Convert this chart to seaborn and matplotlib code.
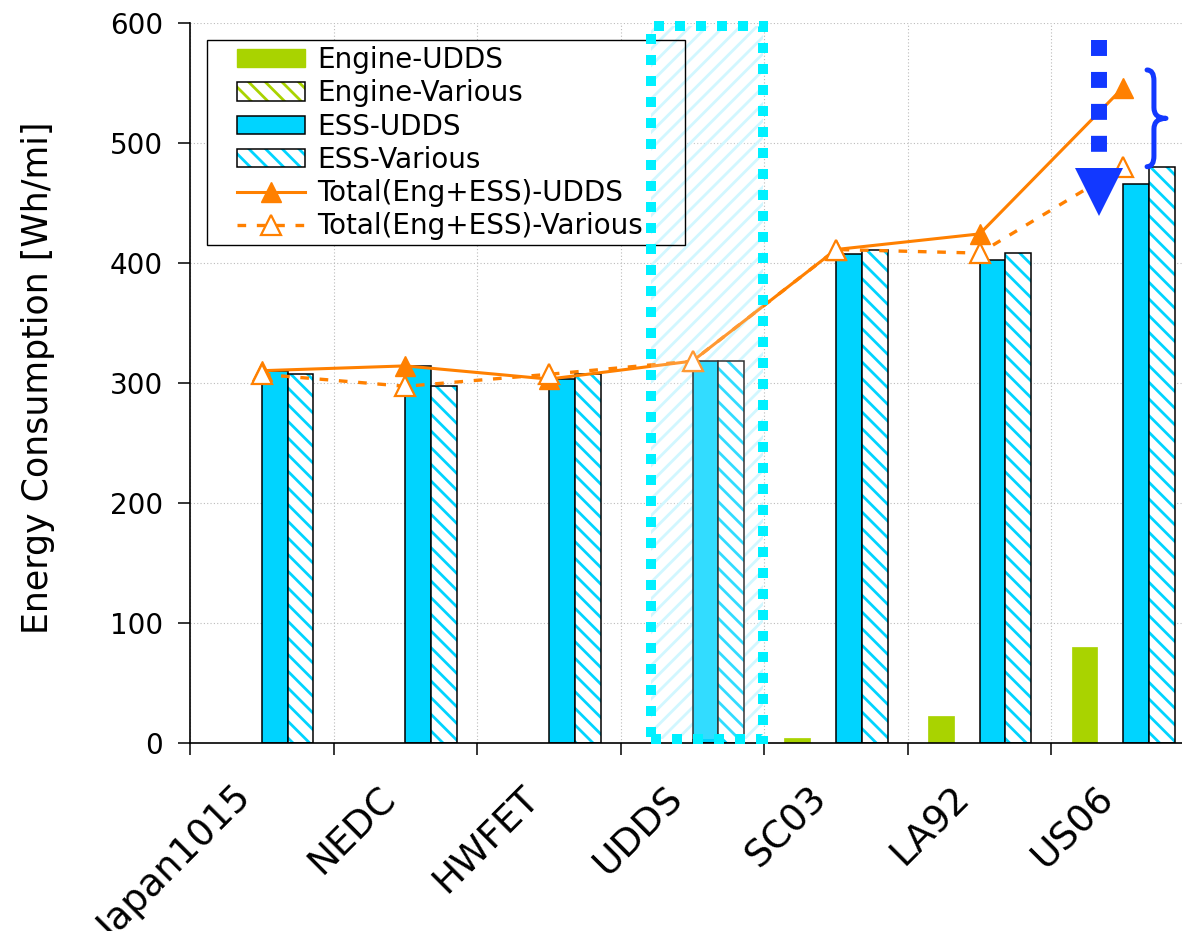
import numpy as np
import pandas as pd
import matplotlib
matplotlib.use("Agg")
import matplotlib.pyplot as plt
import seaborn as sns
from matplotlib.patches import Patch, Rectangle, PathPatch
from matplotlib.lines import Line2D
from matplotlib.path import Path
from matplotlib.legend_handler import HandlerTuple

# ---- data -------------------------------------------------------------
cycles = ["Japan1015", "NEDC", "HWFET", "UDDS", "SC03", "LA92", "US06"]
engine_udds = [0, 0, 0, 0, 4, 22, 80]
engine_various = [0, 0, 0, 0, 0, 0, 0]
ess_udds = [310, 314, 303, 318, 407, 402, 466]
ess_various = [307, 297, 307, 318, 411, 408, 480]
total_udds = [310, 314, 303, 318, 411, 424, 546]
total_various = [307, 297, 307, 318, 411, 408, 480]
bar_series = ["Engine-UDDS", "Engine-Various", "ESS-UDDS", "ESS-Various"]
line_series = ["Total(Eng+ESS)-UDDS", "Total(Eng+ESS)-Various"]
y_ticks = [0, 100, 200, 300, 400, 500, 600]
y_label = "Energy Consumption [Wh/mi]"
highlight_cycle = "UDDS"
arrow_cycle = "US06"

# ---- style ------------------------------------------------------------
GREEN = "#A9D300"
CYAN = "#00D4FF"
ORANGE = "#FF8000"
AQUA = "#00F0FF"
BLUE = "#1238FF"
plt.rcParams.update({
    "font.family": ["DejaVu Sans"],
    "hatch.linewidth": 2.0,
    "axes.linewidth": 1.2,
})

W, H = 1182, 931
fig = plt.figure(figsize=(W / 100, H / 100), dpi=100)
ax = fig.add_axes([190 / W, (H - 742.7) / H, 1005 / W, 720 / H])

# ---- grouped bars -----------------------------------------------------
df = pd.DataFrame({
    "cycle": np.tile(cycles, len(bar_series)),
    "series": np.repeat(bar_series, len(cycles)),
    "value": np.concatenate([engine_udds, engine_various, ess_udds, ess_various]),
})
sns.barplot(data=df, x="cycle", y="value", hue="series", order=cycles,
            hue_order=bar_series, palette=[GREEN, "white", CYAN, "white"],
            width=0.72, gap=0, saturation=1, errorbar=None, legend=False,
            edgecolor="black", linewidth=1.1, ax=ax, zorder=2)

eng_u, eng_v, ess_u, ess_v = ax.containers
for bar in eng_u:
    bar.set_edgecolor(GREEN)
    bar.set_linewidth(0.5)
for bar in eng_v:
    bar.set_facecolor("white")
    bar.set_hatch("\\\\")
    bar.set_edgecolor(GREEN)
    bar.set_linewidth(0)
for bar in ess_v:
    bar.set_facecolor("white")
    bar.set_hatch("\\\\")
    bar.set_edgecolor(CYAN)
    bar.set_linewidth(0)
    ax.add_patch(Rectangle(bar.get_xy(), bar.get_width(), bar.get_height(),
                           fill=False, edgecolor="black", linewidth=1.1, zorder=2.1))

# ---- total lines ------------------------------------------------------
sns.lineplot(x=cycles, y=total_udds, sort=False, color=ORANGE, linewidth=2.2,
             marker="^", markersize=15, markerfacecolor=ORANGE,
             markeredgecolor=ORANGE, markeredgewidth=1.0, legend=False,
             ax=ax, zorder=3)
sns.lineplot(x=cycles, y=total_various, sort=False, color=ORANGE, linewidth=2.4,
             linestyle=(0, (2.6, 3.2)), marker="^", markersize=15,
             markerfacecolor="white", markeredgecolor=ORANGE,
             markeredgewidth=1.6, legend=False, ax=ax, zorder=3.1)

# ---- axes -------------------------------------------------------------
n = len(cycles)
ax.set_xlim(-0.5, n - 0.5)
ax.set_ylim(0, 600)
ax.set_yticks(y_ticks)
ax.set_xticks(np.arange(-0.5, n), labels=[""] * (n + 1))
ax.set_xticks(np.arange(n) - 0.105, labels=cycles, minor=True)
ax.tick_params(axis="x", which="major", length=8.6, width=1.1, direction="out")
ax.tick_params(axis="x", which="minor", length=0, pad=36, labelsize=27)
plt.setp(ax.xaxis.get_minorticklabels(), rotation=45, ha="right", va="center",
         rotation_mode="anchor")
ax.tick_params(axis="y", length=8.6, width=1.1, pad=10.8, labelsize=20)
ax.grid(True, which="major", color="#BBBBBB", linestyle=(0, (1, 2)), linewidth=0.8)
ax.set_axisbelow(True)
ax.spines[["top", "right"]].set_visible(False)
ax.set_xlabel("")
ax.set_ylabel(y_label, fontsize=25)
ax.yaxis.set_label_coords(-0.1343, 0.507)

# ---- legend -----------------------------------------------------------
handles = [
    Patch(facecolor=GREEN, edgecolor=GREEN),
    (Patch(facecolor="white", edgecolor=GREEN, hatch="\\\\", linewidth=0),
     Patch(facecolor="none", edgecolor="black", linewidth=1.1)),
    Patch(facecolor=CYAN, edgecolor="black", linewidth=1.1),
    (Patch(facecolor="white", edgecolor=CYAN, hatch="\\\\", linewidth=0),
     Patch(facecolor="none", edgecolor="black", linewidth=1.1)),
    Line2D([], [], color=ORANGE, lw=2.2, marker="^", ms=15, mfc=ORANGE, mec=ORANGE),
    Line2D([], [], color=ORANGE, lw=2.4, ls=(0, (2.6, 3.2)), marker="^", ms=15,
           mfc="white", mec=ORANGE, mew=1.6),
]
leg = ax.legend(handles, bar_series + line_series, loc="upper left",
                bbox_to_anchor=(237 / W, 1 - 46 / H), bbox_transform=fig.transFigure,
                frameon=False, fontsize=20, borderpad=0, borderaxespad=0,
                labelspacing=0.19, handlelength=2.45, handletextpad=0.43,
                handleheight=0.63, handler_map={tuple: HandlerTuple(ndivide=1, pad=0)})
leg.set_zorder(5)
box_xy, box_w, box_h = (207 / W, 1 - 245 / H), 478 / W, 205 / H
ax.add_artist(Rectangle(box_xy, box_w, box_h, transform=fig.transFigure,
                        facecolor="white", edgecolor="none", zorder=1.2))
ax.add_artist(Rectangle(box_xy, box_w, box_h, transform=fig.transFigure,
                        facecolor="none", edgecolor="black", linewidth=1.0,
                        zorder=5))

# ---- highlighted cycle ------------------------------------------------
hi = cycles.index(highlight_cycle)
hx0, hx1, hy0, hy1 = hi - 0.29, hi + 0.49, 3, 597
ax.add_patch(Rectangle((hx0, hy0), hx1 - hx0, hy1 - hy0, facecolor="none",
                       edgecolor="#C6F6FF", hatch="//", linewidth=0, zorder=1.5))
ax.add_patch(Rectangle((hx0, hy0), hx1 - hx0, hy1 - hy0, facecolor="white",
                       alpha=0.2, edgecolor="none", zorder=4.5))
ax.add_patch(Rectangle((hx0, hy0), hx1 - hx0, hy1 - hy0, facecolor="none",
                       edgecolor=AQUA, linewidth=7.2, linestyle=(0, (1, 1.1)),
                       zorder=6, clip_on=False))

# ---- drop arrow and brace at the last cycle ---------------------------
ai = cycles.index(arrow_cycle)
arrow_x = ai - 0.168
ax.plot([arrow_x, arrow_x], [585.6, 492], color=BLUE, lw=11.5,
        linestyle=(0, (1, 1)), dash_capstyle="butt", zorder=7, clip_on=False)
ax.plot([arrow_x], [459.3], marker="v", markersize=34.5, color=BLUE,
        markeredgewidth=0, linestyle="none", zorder=7)

bx0, bxm, bx1 = ai + 0.166, ai + 0.214, ai + 0.298
by0, by1 = 480, 560.6
bym, r = (by0 + by1) / 2, 9
verts = [(bx0, by1), (bxm, by1), (bxm, by1 - r), (bxm, bym + r), (bxm, bym),
         (bx1, bym), (bxm, bym), (bxm, bym - r), (bxm, by0 + r), (bxm, by0),
         (bx0, by0)]
codes = [Path.MOVETO, Path.CURVE3, Path.CURVE3, Path.LINETO, Path.CURVE3,
         Path.CURVE3, Path.CURVE3, Path.CURVE3, Path.LINETO, Path.CURVE3,
         Path.CURVE3]
ax.add_patch(PathPatch(Path(verts, codes), facecolor="none", edgecolor=BLUE,
                       linewidth=3.6, capstyle="round", joinstyle="round",
                       zorder=7))

fig.savefig("out.png", dpi=100)
